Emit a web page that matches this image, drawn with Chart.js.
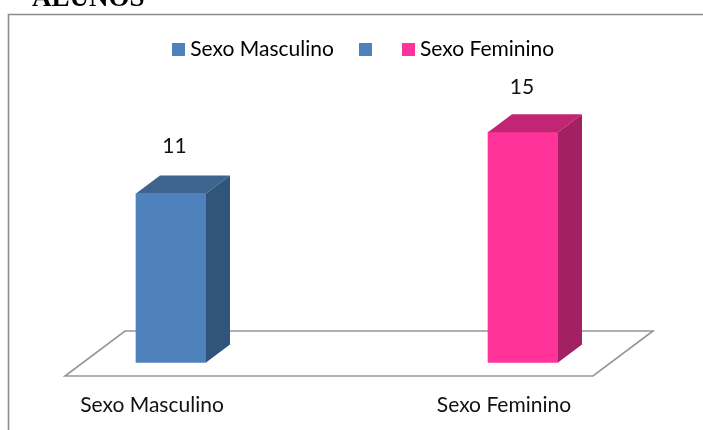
<!DOCTYPE html>
<html><head><meta charset="utf-8">
<style>html,body{margin:0;padding:0;background:#fff;overflow:hidden;width:703px;height:430px}canvas{display:block}</style>
<script src="https://cdn.jsdelivr.net/npm/chart.js@4"></script></head>
<body><canvas id="c" width="732" height="442"></canvas>
<script>
const categories = ["Sexo Masculino", "Sexo Feminino"];
const values = [11, 15];
const frontColors = ["#4F81BD", "#FF3399"];
const topColors = ["#3D638F", "#C22573"];
const sideColors = ["#31547B", "#A32062"];
const legendLabels = ["Sexo Masculino", "", "Sexo Feminino"];
const legendColors = ["#4F81BD", "#4F81BD", "#FF3399"];
const pageTitle = "ALUNOS";
const FONT = "Lato";
const FONT_SIZE = 21;

function swatch(color) {
  const s = document.createElement("canvas");
  s.width = 13; s.height = 13;
  const g = s.getContext("2d");
  g.fillStyle = color;
  g.fillRect(0, 0, 13, 13);
  return s;
}

const scene = {
  id: "scene",
  beforeDraw(chart) {
    const c = chart.ctx;
    c.save();
    c.fillStyle = "#fff";
    c.fillRect(0, 0, chart.width, chart.height);
    c.strokeStyle = "#8C8C8C";
    c.lineWidth = 1.6;
    c.beginPath();
    c.moveTo(8.5, chart.height + 5);
    c.lineTo(8.5, 14.5);
    c.lineTo(chart.width + 5, 14.5);
    c.stroke();
    c.fillStyle = "#000";
    c.font = "bold 27px 'Liberation Serif'";
    c.textBaseline = "alphabetic";
    c.textAlign = "left";
    c.fillText(pageTitle, 32, 6);
    c.restore();
  },
  beforeDatasetsDraw(chart) {
    const c = chart.ctx, x = chart.scales.x, y = chart.scales.y;
    const x0 = x.getPixelForValue(0), x1 = x.getPixelForValue(1), b = y.getPixelForValue(0);
    const fl = x0 - 106, fr = x1 + 70, fy = b + 13.5, dx = 60, dy = 45;
    c.save();
    c.strokeStyle = "#969696";
    c.lineWidth = 1.6;
    c.beginPath();
    c.moveTo(fl, fy);
    c.lineTo(fr, fy);
    c.lineTo(fr + dx, fy - dy);
    c.lineTo(fl + dx, fy - dy);
    c.closePath();
    c.stroke();
    c.restore();
  },
  afterDatasetsDraw(chart) {
    const c = chart.ctx, d = 24, e = 18;
    const labelShift = [[3.5, 47], [-1, 45]];
    chart.getDatasetMeta(0).data.forEach((bar, i) => {
      const l = bar.x - bar.width / 2, r = bar.x + bar.width / 2, t = bar.y, b = bar.base;
      c.save();
      c.fillStyle = topColors[i];
      c.beginPath();
      c.moveTo(l, t); c.lineTo(l + d, t - e); c.lineTo(r + d, t - e); c.lineTo(r, t);
      c.closePath(); c.fill();
      c.fillStyle = sideColors[i];
      c.beginPath();
      c.moveTo(r, t); c.lineTo(r + d, t - e); c.lineTo(r + d, b - e); c.lineTo(r, b);
      c.closePath(); c.fill();
      c.fillStyle = "#111";
      c.font = FONT_SIZE + "px " + FONT;
      c.textAlign = "center";
      c.textBaseline = "middle";
      c.fillText(String(values[i]), bar.x + labelShift[i][0], t - labelShift[i][1]);
      c.restore();
    });
  }
};

new Chart(document.getElementById("c"), {
  type: "bar",
  data: {
    labels: categories,
    datasets: [{ data: values, backgroundColor: frontColors, barThickness: 70, clip: false, borderWidth: 0 }]
  },
  plugins: [scene],
  options: {
    responsive: false,
    animation: false,
    devicePixelRatio: 1,
    layout: { padding: { left: 0, right: 0, top: 8, bottom: 2.3 } },
    scales: {
      x: {
        offset: false,
        grid: { display: false },
        border: { display: false },
        ticks: { autoSkip: false, maxRotation: 0, padding: 22, labelOffset: -19, color: "#111", font: { family: FONT, size: FONT_SIZE } }
      },
      y: {
        min: 0, max: 19.08,
        grid: { display: false }, border: { display: false }, ticks: { display: false },
        afterFit(s) { s.width = 171; }
      },
      yRight: {
        position: "right", min: 0, max: 1,
        grid: { display: false }, border: { display: false }, ticks: { display: false },
        afterFit(s) { s.width = 209; }
      }
    },
    plugins: {
      tooltip: { enabled: false },
      title: { display: false },
      legend: {
        position: "top",
        labels: {
          usePointStyle: true,
          pointStyleWidth: 2,
          boxHeight: 13,
          padding: 30.5,
          color: "#111",
          font: { family: FONT, size: FONT_SIZE },
          generateLabels: () => legendLabels.map((t, i) => ({
            text: t, fillStyle: legendColors[i], strokeStyle: legendColors[i], lineWidth: 0, pointStyle: swatch(legendColors[i]), hidden: false, datasetIndex: 0, index: i
          }))
        }
      }
    }
  }
});
</script></body></html>
